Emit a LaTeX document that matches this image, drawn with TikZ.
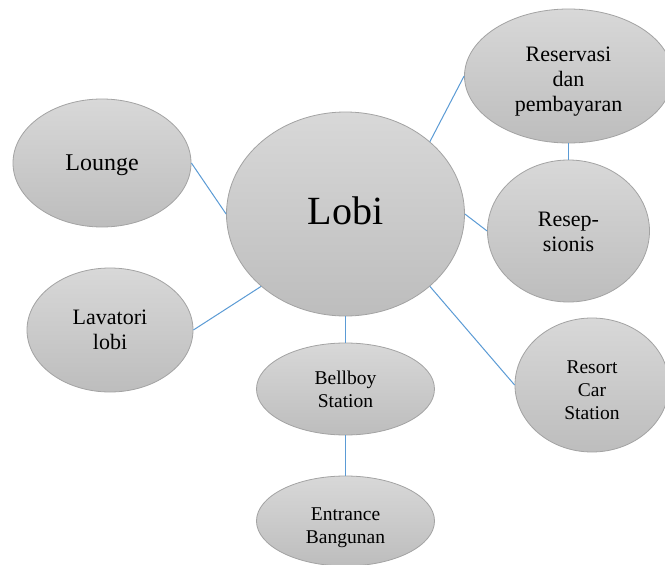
\documentclass[tikz,border=0pt]{standalone}
\usepackage{fontspec}
\setmainfont{Liberation Serif}
\newfontfamily\tnr{Liberation Serif}
\usetikzlibrary{shapes.geometric}
\definecolor{ebord}{HTML}{A3A3A3}
\definecolor{etop}{HTML}{D8D8D8}
\definecolor{ebot}{HTML}{BDBDBD}
\definecolor{link}{HTML}{5B9BD5}
\newcommand\lowtxt[2]{\raisebox{-#1}[\height][\depth]{\begin{tabular}{@{}c@{}}#2\end{tabular}}}
\tikzset{
  bubble/.style={ellipse, draw=ebord, line width=0.8pt, top color=etop, bottom color=ebot,
    inner sep=0pt, text=black},
  conn/.style={draw=link, line width=1pt},
  fbig/.style={font=\tnr\fontsize{40}{44}\selectfont},
  fmid/.style={font=\tnr\fontsize{22}{25}\selectfont},
  flg/.style={font=\tnr\fontsize{24}{27}\selectfont},
  fsm/.style={font=\tnr\fontsize{19.5}{23}\selectfont}
}
\begin{document}
\begin{tikzpicture}[x=1pt,y=-1pt]
\useasboundingbox (0,0) rectangle (665,565);
\fill[white] (0,0) rectangle (665,565);
\node[bubble, fbig, minimum width=238pt, minimum height=204pt] (lobi) at (345.5,214) {\lowtxt{2pt}{Lobi}};
\node[bubble, flg, minimum width=178pt, minimum height=128pt] (lounge) at (102,163) {\lowtxt{2pt}{Lounge}};
\node[bubble, fmid, minimum width=166pt, minimum height=124pt] (lav) at (110,330) {\lowtxt{2pt}{Lavatori\\lobi}};
\node[bubble, fmid, minimum width=208pt, minimum height=134pt] (res) at (568.5,76) {\lowtxt{5pt}{Reservasi\\dan\\pembayaran}};
\node[bubble, fmid, minimum width=162pt, minimum height=142pt] (resep) at (568.5,231) {\lowtxt{3pt}{Resep-\\sionis}};
\node[bubble, fsm, minimum width=154pt, minimum height=134pt] (car) at (592,385) {\lowtxt{7pt}{Resort\\Car\\Station}};
\node[bubble, fsm, minimum width=178pt, minimum height=92pt] (bell) at (345.5,389) {\lowtxt{2pt}{Bellboy\\Station}};
\node[bubble, fsm, minimum width=178pt, minimum height=90pt] (ent) at (345.5,521) {\lowtxt{6pt}{Entrance\\Bangunan}};
\draw[conn] (lounge.east) -- (lobi.west);
\draw[conn] (lav.east) -- (lobi.south west);
\draw[conn] (lobi.north east) -- (res.west);
\draw[conn] (res.south) -- (resep.north);
\draw[conn] (lobi.east) -- (resep.west);
\draw[conn] (lobi.south east) -- (car.west);
\draw[conn] (lobi.south) -- (bell.north);
\draw[conn] (bell.south) -- (ent.north);
\end{tikzpicture}
\end{document}
